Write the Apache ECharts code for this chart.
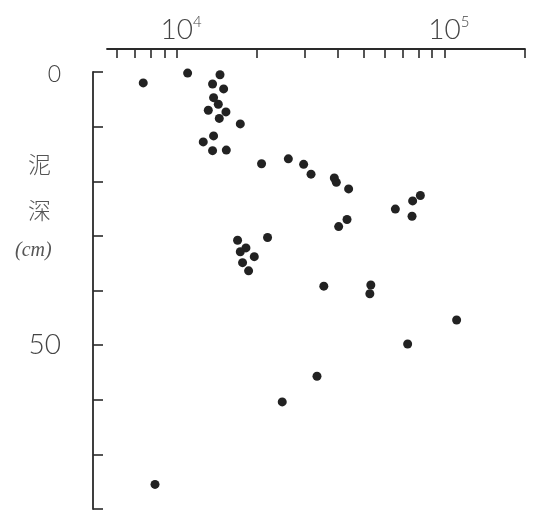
<!DOCTYPE html>
<html>
<head>
<meta charset="utf-8">
<script src="https://cdn.jsdelivr.net/npm/echarts@6/dist/echarts.min.js"></script>
<style>html,body{margin:0;padding:0;background:#fff;}#c{width:533px;height:512px;}</style>
</head>
<body>
<div id="c"></div>
<script>
// concentration (x, log scale) vs mud depth in cm (y)
const concentration = [11000, 7510, 14530, 13630, 14990, 13750, 14320, 13140, 15290, 14440,
  17300, 13750, 12580, 13630, 15340, 20770, 26150, 29820, 31780, 38820,
  39500, 43900, 43300, 40300, 16900, 21870, 18160, 17300, 19510, 17640,
  18580, 35470, 53140, 52690, 65610, 76130, 81360, 75730, 111100, 72930,
  33450, 24810, 8310];
const depth = [0.2, 2.0, 0.5, 2.2, 3.1, 4.7, 5.9, 7.0, 7.3, 8.5,
  9.5, 11.7, 12.8, 14.4, 14.3, 16.8, 15.9, 16.9, 18.7, 19.4,
  20.2, 21.4, 27.0, 28.3, 30.8, 30.3, 32.2, 32.9, 33.8, 34.9,
  36.4, 39.2, 39.0, 40.6, 25.1, 23.6, 22.6, 26.4, 45.4, 49.8,
  55.7, 60.4, 75.5];
const xTicks = [6000, 7000, 8000, 9000, 10000, 20000, 30000, 40000, 50000, 60000, 70000, 80000, 90000, 100000, 200000];
const xLabels = [10000, 100000];
const xLabelExp = ['4', '5'];
const yLabels = [0, 50];
const yAxisTitle = ['泥', '深', '(cm)'];

const pts = concentration.map((v, i) => [v, depth[i]]);
const ink = '#2a2a2a';
const chart = echarts.init(document.getElementById('c'), null, {renderer: 'canvas'});
chart.setOption({
  animation: false,
  backgroundColor: '#fff',
  grid: {left: 107, right: 8, top: 72, height: 437},
  xAxis: {
    type: 'log', logBase: 10, position: 'top', offset: 23,
    min: 5500, max: 200000,
    axisLine: {show: true, onZero: false, lineStyle: {color: ink, width: 1.8}},
    axisTick: {show: true, inside: true, length: 9, lineStyle: {color: ink, width: 1.6}, customValues: xTicks},
    minorTick: {show: false},
    splitLine: {show: false},
    axisLabel: {
      customValues: xLabels, margin: 5,
      formatter: v => '{p|}10{s|' + xLabelExp[xLabels.indexOf(v)] + '}',
      rich: {
        p: {width: 9},
        s: {fontSize: 15, fontFamily: 'Lato', fontWeight: 300, color: '#444', padding: [0, 0, 14, 0]}
      },
      fontSize: 28, fontFamily: 'Lato', fontWeight: 300, color: '#444'
    }
  },
  yAxis: {
    type: 'value', inverse: true, min: 0, max: 80, interval: 10,
    position: 'left', offset: 14,
    axisLine: {show: true, onZero: false, lineStyle: {color: ink, width: 1.8}},
    axisTick: {show: true, inside: true, length: 10, lineStyle: {color: ink, width: 1.6}},
    splitLine: {show: false},
    axisLabel: {
      margin: 32,
      formatter: v => v === yLabels[0] ? '{a|' + v + '}' : (v === yLabels[1] ? '{b|' + v + '}' : ''),
      rich: {
        a: {fontSize: 23, fontFamily: 'Lato', fontWeight: 300, color: '#444', padding: [6, 0, 0, 0]},
        b: {fontSize: 28, fontFamily: 'Lato', fontWeight: 300, color: '#444'}
      }
    }
  },
  graphic: [
    {type: 'text', left: 28, top: 153, style: {text: yAxisTitle[0], font: '300 23px "Noto Sans CJK SC"', fill: '#555'}},
    {type: 'text', left: 28, top: 199, style: {text: yAxisTitle[1], font: '300 23px "Noto Sans CJK SC"', fill: '#555'}},
    {type: 'text', left: 15, top: 241, style: {text: yAxisTitle[2], font: 'italic 20px "Liberation Serif"', fill: '#555'}}
  ],
  series: [{
    type: 'scatter', data: pts, symbol: 'circle', symbolSize: 9, clip: false,
    itemStyle: {color: '#222', opacity: 1}
  }]
});
</script>
</body>
</html>
